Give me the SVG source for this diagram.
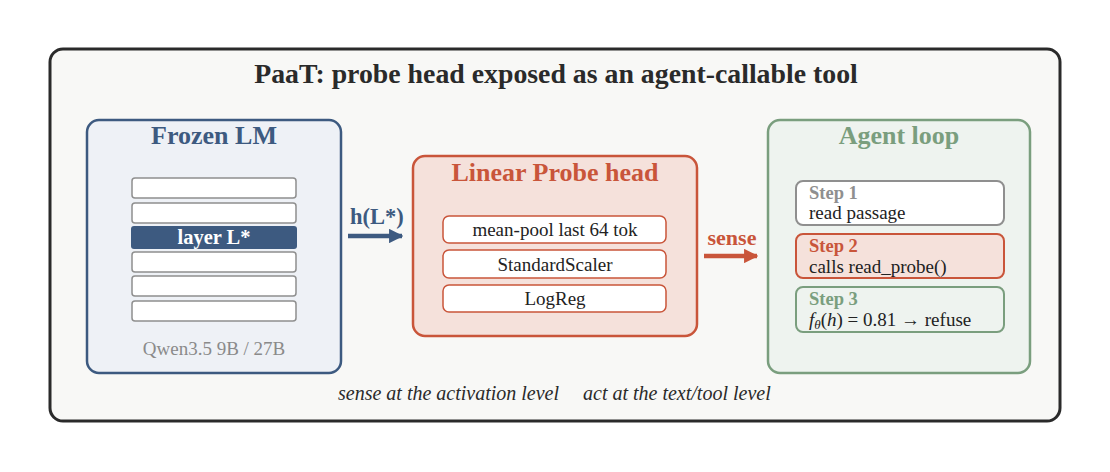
<svg xmlns="http://www.w3.org/2000/svg" width="1110" height="472" viewBox="0 0 1110 472">
<style>
text{font-family:"Liberation Serif","Times New Roman",serif}
.t{font-weight:bold;font-size:26px;text-anchor:middle}
.lay{fill:#fff;stroke:#8f8f8f;stroke-width:1.5}
.pb{fill:#fff;stroke:#c9553a;stroke-width:1.5}
.pt{font-size:19px;fill:#222;text-anchor:middle}
.sl{font-weight:bold;font-size:18.5px}
.sb{font-size:19px;fill:#222}
.it{font-style:italic;font-size:20px;fill:#2a2a2a}
</style>
<defs>
<marker id="ab" viewBox="0 0 10 10" refX="9" refY="5" markerWidth="3.2" markerHeight="3.2" orient="auto"><path d="M0,0 L10,5 L0,10 z" fill="#3d5a80"/></marker>
<marker id="ar" viewBox="0 0 10 10" refX="9" refY="5" markerWidth="3.2" markerHeight="3.2" orient="auto"><path d="M0,0 L10,5 L0,10 z" fill="#c9553a"/></marker>
</defs>
<rect width="1110" height="472" fill="#fff"/>
<g id="frame">
<rect x="50" y="49" width="1010" height="372" rx="13" fill="#f8f8f6" stroke="#2a2a2a" stroke-width="3"/>
<text x="556" y="83" class="t" style="font-size:27.8px" fill="#2a2a2a">PaaT: probe head exposed as an agent-callable tool</text>
</g>
<g id="frozen-lm">
<rect x="87" y="120" width="254" height="253" rx="12" fill="#eef1f6" stroke="#3d5a80" stroke-width="2.5"/>
<text x="214" y="144" class="t" fill="#3d5a80">Frozen LM</text>
<rect class="lay" x="132" y="178" width="164" height="20" rx="3"/>
<rect class="lay" x="132" y="203" width="164" height="20" rx="3"/>
<rect x="131" y="226" width="166" height="23" rx="3" fill="#3d5a80"/>
<text x="214" y="244" font-size="20.5" font-weight="bold" fill="#fff" text-anchor="middle">layer L*</text>
<rect class="lay" x="132" y="252" width="164" height="20" rx="3"/>
<rect class="lay" x="132" y="276" width="164" height="20" rx="3"/>
<rect class="lay" x="132" y="301" width="164" height="20" rx="3"/>
<text x="214" y="355" font-size="19" fill="#8a8a8a" text-anchor="middle">Qwen3.5 9B / 27B</text>
</g>
<g id="probe-head">
<rect x="413" y="156" width="284" height="180" rx="12" fill="#f5e1db" stroke="#c9553a" stroke-width="2.5"/>
<text x="555" y="181" class="t" fill="#c9553a">Linear Probe head</text>
<rect class="pb" x="443" y="216" width="223" height="27" rx="6"/>
<text x="555" y="236" class="pt">mean-pool last 64 tok</text>
<rect class="pb" x="443" y="250" width="223" height="28" rx="6"/>
<text x="555" y="271" class="pt">StandardScaler</text>
<rect class="pb" x="443" y="285" width="223" height="27" rx="6"/>
<text x="555" y="305" class="pt">LogReg</text>
</g>
<g id="agent-loop">
<rect x="768" y="120" width="262" height="253" rx="12" fill="#eef3ef" stroke="#7a9e7e" stroke-width="2.5"/>
<text x="899" y="144" class="t" fill="#7a9e7e">Agent loop</text>
<rect x="796" y="181" width="208" height="44" rx="7" fill="#fff" stroke="#8f8f8f" stroke-width="2"/>
<text x="809" y="199" class="sl" fill="#8f8f8f">Step 1</text>
<text x="809" y="219" class="sb">read passage</text>
<rect x="796" y="234" width="208" height="44" rx="7" fill="#f5e1db" stroke="#c9553a" stroke-width="2"/>
<text x="809" y="252" class="sl" fill="#c9553a">Step 2</text>
<text x="809" y="273" class="sb">calls read_probe()</text>
<rect x="796" y="287" width="208" height="45" rx="7" fill="#eef3ef" stroke="#7a9e7e" stroke-width="2"/>
<text x="809" y="305" class="sl" fill="#7a9e7e">Step 3</text>
<text x="809" y="326" class="sb"><tspan font-style="italic">f</tspan><tspan font-style="italic" font-size="13" dy="3">θ</tspan><tspan dy="-3">(</tspan><tspan font-style="italic">h</tspan>) = 0.81 →  refuse</text>
</g>
<g id="connectors">
<line x1="348" y1="236" x2="402" y2="236" stroke="#3d5a80" stroke-width="4.5" marker-end="url(#ab)"/>
<text x="377" y="224" font-size="22.5" font-weight="bold" fill="#3d5a80" text-anchor="middle">h(L*)</text>
<line x1="704" y1="256" x2="757" y2="256" stroke="#c9553a" stroke-width="4.5" marker-end="url(#ar)"/>
<text x="732" y="245" font-size="22" font-weight="bold" fill="#c9553a" text-anchor="middle">sense</text>
</g>
<g id="caption">
<text x="338" y="400" class="it">sense at the activation level</text>
<text x="583" y="400" class="it">act at the text/tool level</text>
</g>
</svg>
